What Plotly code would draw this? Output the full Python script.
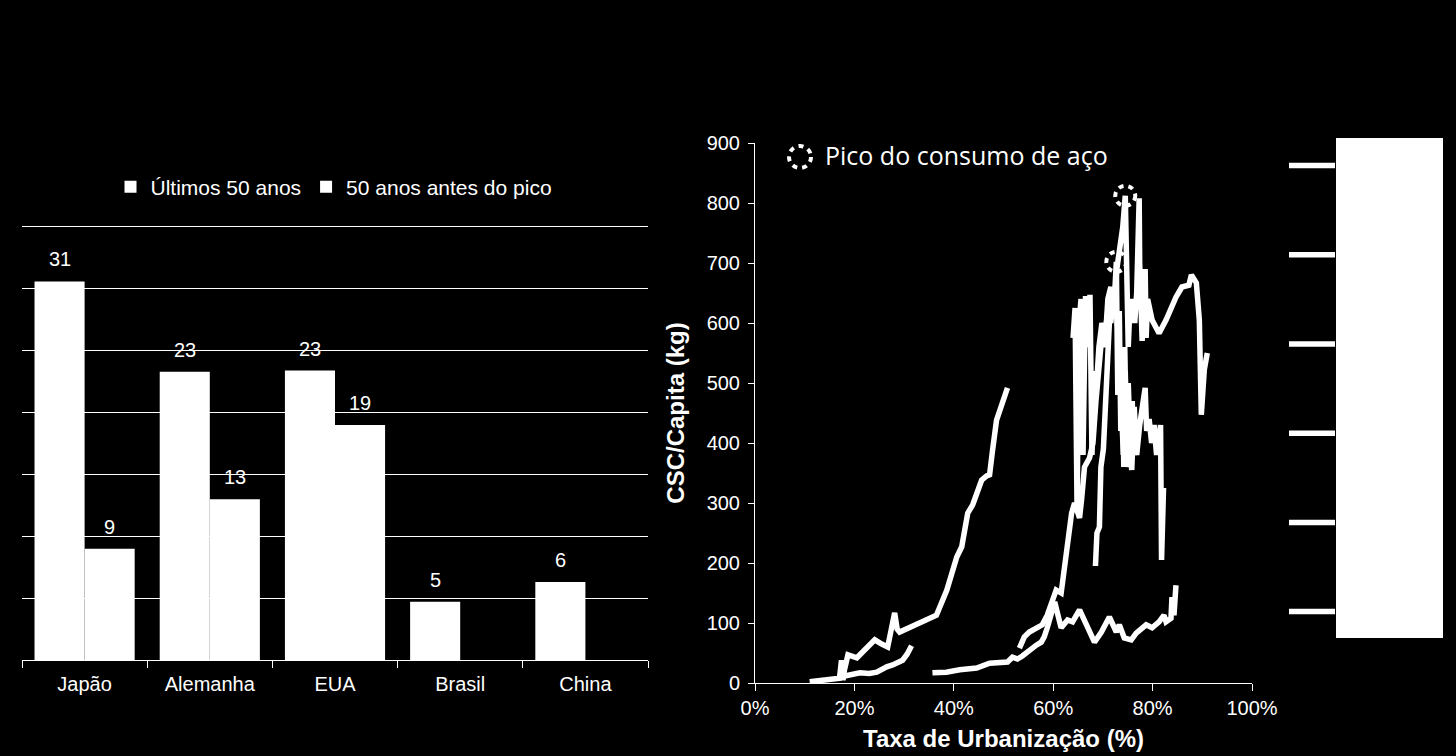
import plotly.graph_objects as go

# ---------------- data: left bar chart ----------------
categories = ["Japão", "Alemanha", "EUA", "Brasil", "China"]
ultimos_50 = [30.6, 23.3, 23.4, 4.7, 6.3]
antes_pico = [9.0, 13.0, 19.0, None, None]

# ---------------- data: right line chart (urbanização %, kg/capita) ----------------
china_x = [11.0, 13.0, 15.0, 17.0, 17.4, 17.7, 18.0, 18.7, 20.5, 22.0, 24.1, 25.5, 26.7, 28.1, 28.6,
           29.1, 31.7, 33.5, 35.5, 36.5, 38.6, 40.6, 41.6, 42.8, 43.8, 45.6, 46.6, 47.2, 47.8, 48.6, 50.8]
china_y = [2, 4, 6, 8, 38, 5, 22, 47, 42, 55, 72, 65, 60, 117, 90,
           85, 95, 100, 110, 113, 155, 210, 227, 283, 297, 338, 345, 347, 388, 438, 492]

india_x = [17.1, 19.0, 21.1, 23.0, 24.5, 26.5, 27.7, 29.7, 30.6, 31.5]
india_y = [10, 13, 17, 16, 18, 27, 30, 38, 48, 62]

brasil_x = [35.7, 38.5, 41.2, 44.6, 47.2, 49.2, 50.8, 51.8, 52.8, 53.8, 55.2, 56.6, 57.6, 58.2, 58.8,
            59.6, 60.3, 61.6, 62.9, 63.9, 65.3, 66.7, 68.3, 69.7, 71.3, 72.7, 73.3, 74.3, 75.7, 76.7,
            78.7, 79.9, 81.3, 82.3, 82.7, 83.7, 83.9, 84.3, 84.7]
brasil_y = [17, 18, 22, 25, 33, 33, 35, 43, 40, 45, 55, 63, 68, 77, 92,
            113, 135, 92, 105, 102, 122, 97, 68, 85, 110, 85, 97, 75, 72, 83,
            97, 92, 102, 113, 102, 108, 143, 113, 163]

japao_x = [53.2, 54.2, 55.2, 56.6, 57.8, 58.8, 59.8, 60.6, 61.6, 62.2, 62.9, 63.7, 64.3, 65.3, 65.7,
           66.3, 67.3, 68.0, 68.6, 69.2, 69.8, 70.4, 71.0, 71.6, 72.2, 72.8, 73.4, 74.0, 74.5, 74.8,
           75.1, 75.4, 75.7, 76.0, 76.4, 76.8, 77.1, 77.3, 77.4, 77.6, 77.9, 78.2, 78.5, 78.7, 79.0,
           79.9, 81.3, 82.7, 84.7, 85.9, 87.3, 87.8, 88.8, 89.4, 89.8, 90.4, 91.0]
japao_y = [58, 77, 85, 92, 97, 113, 135, 155, 150, 193, 238, 283, 300, 275, 305,
           360, 375, 400, 470, 520, 580, 560, 640, 660, 620, 690, 720, 760, 812, 660,
           560, 620, 600, 640, 600, 650, 720, 808, 700, 600, 570, 640, 690, 575, 640,
           605, 583, 605, 643, 660, 663, 680, 667, 605, 447, 522, 550]

alemanha_x = [68.5, 68.8, 69.3, 69.6, 70.1, 70.5, 70.9, 71.3, 71.7, 72.2, 72.7, 73.0, 73.3, 73.6,
              73.9, 74.2, 74.5, 74.8, 75.1, 75.5, 75.9, 76.3, 76.7]
alemanha_y = [195, 250, 260, 360, 390, 480, 520, 600, 650, 620, 702, 480, 620, 420,
              560, 360, 520, 380, 500, 400, 470, 380, 430]

eua_x = [64.0, 64.4, 64.8, 65.2, 65.6, 66.0, 66.5, 67.0, 67.4, 67.8, 68.2, 68.6, 69.2, 69.8,
         70.4, 71.0, 71.6, 72.1, 72.5, 72.9, 73.3, 73.7, 74.1, 74.4, 74.8, 75.2, 75.8, 76.3,
         76.8, 77.4, 78.0, 78.5, 78.8, 79.3, 79.8, 80.3, 80.8, 81.3, 81.6, 81.8, 82.2]
eua_y = [575, 625, 290, 600, 640, 380, 645, 560, 647, 380, 520, 480, 560, 600,
         580, 620, 600, 650, 640, 600, 560, 470, 380, 560, 360, 420, 355, 460,
         380, 430, 470, 492, 420, 440, 400, 430, 380, 420, 430, 205, 325]

pico_x = [74.5, 72.7]
pico_y = [812, 702]

series = [
    ("Índia", india_x, india_y),
    ("China", china_x, china_y),
    ("Brasil", brasil_x, brasil_y),
    ("Japão", japao_x, japao_y),
    ("Alemanha", alemanha_x, alemanha_y),
    ("EUA", eua_x, eua_y),
]

FONT = "Liberation Sans, Arial, sans-serif"
W, H = 1456, 756

def px_x(p):
    return p / W

def px_y(p):
    return (H - p) / H

fig = go.Figure()

bar_series = [("Últimos 50 anos", ultimos_50), ("50 anos antes do pico", antes_pico)]
for name, vals in bar_series:
    fig.add_trace(go.Bar(
        x=categories, y=vals, name=name,
        marker=dict(color="white", line=dict(width=0)),
        xaxis="x", yaxis="y", legend="legend",
    ))

for name, xs, ys in series:
    fig.add_trace(go.Scatter(
        x=xs, y=ys, name=name, mode="lines",
        line=dict(color="white", width=5.5),
        xaxis="x2", yaxis="y2", legend="legend2", legendgroup=name,
    ))

# value labels above the bars (from the data; shifted to each bar of the group)
annotations = []
bar_px = 50
for j, (name, vals) in enumerate(bar_series):
    shift = -bar_px / 2 if j == 0 else bar_px / 2
    for cat, v in zip(categories, vals):
        if v is None:
            continue
        annotations.append(dict(
            x=cat, y=v, xref="x", yref="y", text=f"{v:.0f}", showarrow=False,
            xanchor="center", yanchor="bottom", xshift=shift, yshift=9,
            font=dict(family=FONT, size=20, color="white"),
        ))
annotations.append(dict(
    text="Pico do consumo de aço", xref="paper", yref="paper",
    x=px_x(823), y=px_y(155), xanchor="left", yanchor="middle", showarrow=False,
    font=dict(family="Open Sans, Noto Sans, sans-serif", size=25, color="white"),
))

shapes = []
# dotted circles around the peaks (data coordinates, pixel size)
for xv, yv in zip(pico_x, pico_y):
    shapes.append(dict(
        type="circle", xref="x2", yref="y2", xsizemode="pixel", ysizemode="pixel",
        xanchor=xv, yanchor=yv, x0=-10, x1=10, y0=-10, y1=10,
        line=dict(color="white", width=4, dash="5px,5px"),
    ))
# legend key for the peak marker
shapes.append(dict(
    type="circle", xref="paper", yref="paper", xsizemode="pixel", ysizemode="pixel",
    xanchor=px_x(800), yanchor=px_y(157), x0=-11, x1=11, y0=-11, y1=11,
    line=dict(color="white", width=4, dash="5px,5px"),
))
# white box behind the line legend
shapes.append(dict(
    type="rect", xref="paper", yref="paper", layer="below",
    x0=px_x(1336), x1=px_x(1443), y0=px_y(638), y1=px_y(138),
    fillcolor="white", line=dict(width=0),
))

# left value axis: 0 at 660 px, 35 at 227 px; domain extended a little so the top grid line shows
unit_px = (660 - 227) / 35.0
y_top = 35.3

fig.update_layout(
    width=W, height=H,
    margin=dict(l=0, r=0, t=0, b=0, autoexpand=False),
    paper_bgcolor="black", plot_bgcolor="black",
    font=dict(family=FONT, color="white", size=20),
    barmode="group", bargap=0.2, bargroupgap=0,
    shapes=shapes, annotations=annotations,
    xaxis=dict(
        domain=[px_x(22), px_x(648)], anchor="y", type="category", automargin=False,
        showline=True, linecolor="white", linewidth=1,
        ticks="outside", tickson="boundaries", ticklen=7, tickcolor="white",
        ticklabelstandoff=6,
        tickfont=dict(size=20, color="white", family=FONT), showgrid=False,
    ),
    yaxis=dict(
        domain=[px_y(660), px_y(660 - y_top * unit_px)], anchor="x", range=[0, y_top], dtick=5,
        automargin=False, showgrid=True, gridcolor="white", gridwidth=1,
        showticklabels=False, zeroline=False, ticks="", showline=False,
    ),
    xaxis2=dict(
        domain=[px_x(755), px_x(1252)], anchor="y2", range=[0, 100], dtick=20, automargin=False,
        ticksuffix="%", showline=True, linecolor="white", linewidth=1,
        ticks="outside", ticklen=7, tickcolor="white", showgrid=False, zeroline=False,
        tickfont=dict(size=20, color="white", family=FONT),
        title=dict(text="Taxa de Urbanização (%)", standoff=12,
                   font=dict(size=24, color="white", family=FONT, weight="bold")),
    ),
    yaxis2=dict(
        domain=[px_y(683), px_y(143)], anchor="x2", range=[0, 900], dtick=100, automargin=False,
        showline=True, linecolor="white", linewidth=1,
        ticks="outside", ticklen=6, tickcolor="white", showgrid=False, zeroline=False,
        ticklabelstandoff=4,
        tickfont=dict(size=20, color="white", family=FONT),
        title=dict(text="CSC/Capita (kg)", standoff=15,
                   font=dict(size=24, color="white", family=FONT, weight="bold")),
    ),
    legend=dict(
        orientation="h", x=px_x(334), xanchor="center", y=px_y(187), yanchor="middle",
        font=dict(size=21, color="white", family=FONT), bgcolor="rgba(0,0,0,0)",
    ),
    legend2=dict(
        x=px_x(1284), xanchor="left", y=px_y(150), yanchor="top",
        font=dict(size=14, color="white", family=FONT), bgcolor="rgba(0,0,0,0)",
        tracegroupgap=68, itemwidth=46,
    ),
)

fig.write_html("out.html")
